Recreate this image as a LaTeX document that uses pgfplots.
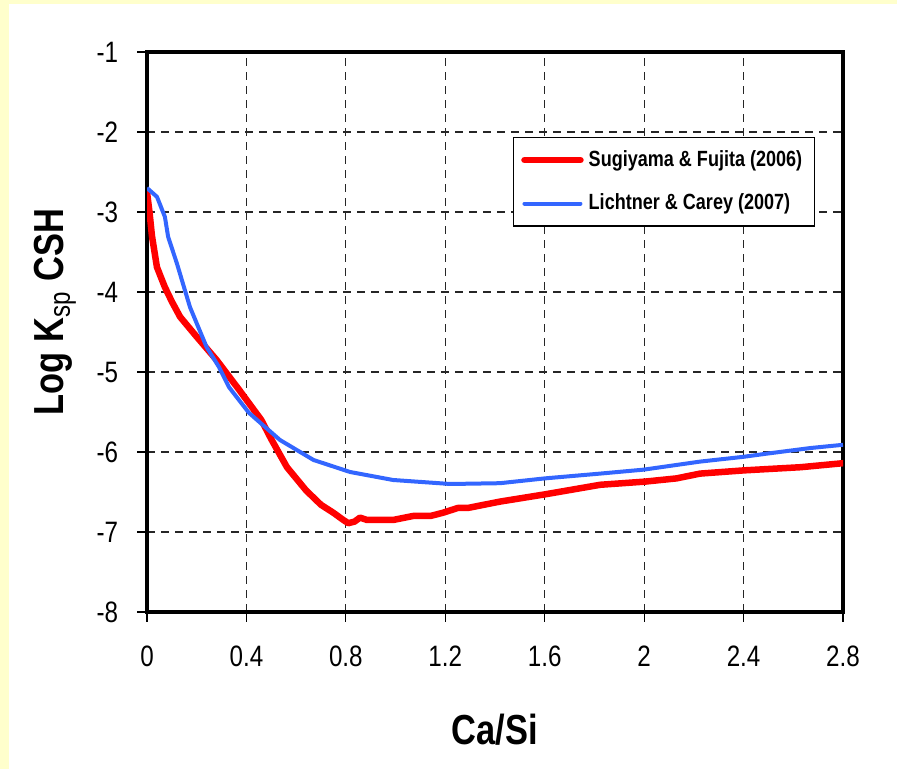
\documentclass[border=0pt]{standalone}
\usepackage{fontspec}
\setmainfont{Liberation Sans}[FakeStretch=0.82]
\usepackage{pgfplots}
\pgfplotsset{compat=1.18}
\definecolor{bgyellow}{RGB}{255,255,204}
\definecolor{redline}{RGB}{255,0,0}
\definecolor{blueline}{RGB}{51,102,255}
\begin{document}
\begin{tikzpicture}
\fill[bgyellow] (0,0) rectangle (358.8pt,307.6pt);
\fill[white] (3.6pt,0) rectangle (358.8pt,306pt);
\begin{axis}[
  at={(58.8pt,62.8pt)}, anchor=south west,
  scale only axis, width=278.4pt, height=224pt,
  xmin=0, xmax=2.8, ymin=-8, ymax=-1,
  xtick={0,0.4,0.8,1.2,1.6,2,2.4,2.8},
  ytick={-8,-7,-6,-5,-4,-3,-2,-1},
  xtick pos=bottom, ytick pos=left,
  /pgf/number format/assume math mode=true,
  grid=major,
  major grid style={black!85, line width=0.45pt, dash pattern=on 3.2pt off 2.4pt},
  axis line style={line width=1.6pt},
  tick style={black, line width=0.5pt},
  tick align=outside, major tick length=4pt,
  ticklabel style={font=\fontsize{11.8}{13}\selectfont},
  xticklabel style={yshift=-6pt},
  yticklabel style={xshift=-4pt},
  xlabel={\textbf{Ca/Si}},
  ylabel={\textbf{Log K}\textsubscript{sp}\textbf{ CSH}},
  label style={font=\fontsize{16.8}{19}\selectfont},
  xlabel style={at={(axis description cs:0.5,0)}, anchor=center, yshift=-47.2pt},
  ylabel style={at={(axis description cs:-0.132,0.536)}, anchor=center},
  legend style={at={(axis description cs:0.526,0.848)}, anchor=north west,
    draw=black, line width=0.5pt, fill=white,
    font=\bfseries\fontsize{8.8}{10}\selectfont,
    inner xsep=3pt, inner ysep=3pt, row sep=5.5pt},
  legend cell align=left,
  legend image code/.code={\draw[#1, line cap=round] (0pt,0pt) -- (22.4pt,0pt);},
]
\addplot[redline, line width=2.6pt, line join=round, line cap=round] coordinates {
(0,-2.75) (0.01,-3.0) (0.02,-3.3) (0.04,-3.69) (0.072,-3.94) (0.1,-4.12)
(0.133,-4.31) (0.2,-4.56) (0.28,-4.85) (0.37,-5.22) (0.46,-5.60) (0.5,-5.84)
(0.563,-6.19) (0.64,-6.48) (0.70,-6.66) (0.75,-6.76) (0.79,-6.85) (0.81,-6.89)
(0.835,-6.87) (0.857,-6.82) (0.885,-6.85) (0.99,-6.85) (1.07,-6.80) (1.14,-6.80)
(1.19,-6.76) (1.25,-6.70) (1.29,-6.70) (1.42,-6.62) (1.6,-6.53) (1.823,-6.41)
(2.004,-6.37) (2.13,-6.33) (2.225,-6.27) (2.40,-6.23) (2.63,-6.19) (2.8,-6.14)
};
\addlegendentry{Sugiyama \& Fujita (2006)}
\addplot[blueline, line width=1.6pt, line join=round] coordinates {
(0,-2.7) (0.04,-2.81) (0.072,-3.06) (0.085,-3.31) (0.12,-3.64) (0.173,-4.19)
(0.24,-4.69) (0.29,-4.94) (0.33,-5.19) (0.41,-5.51) (0.535,-5.85) (0.67,-6.1)
(0.817,-6.25) (0.99,-6.35) (1.22,-6.40) (1.42,-6.39) (1.6,-6.33) (1.823,-6.27)
(2.0,-6.22) (2.225,-6.12) (2.4,-6.06) (2.495,-6.02) (2.67,-5.95) (2.8,-5.91)
};
\addlegendentry{Lichtner \& Carey (2007)}
\end{axis}
\pgfresetboundingbox
\useasboundingbox (0,0) rectangle (358.8pt,307.6pt);
\end{tikzpicture}
\end{document}
